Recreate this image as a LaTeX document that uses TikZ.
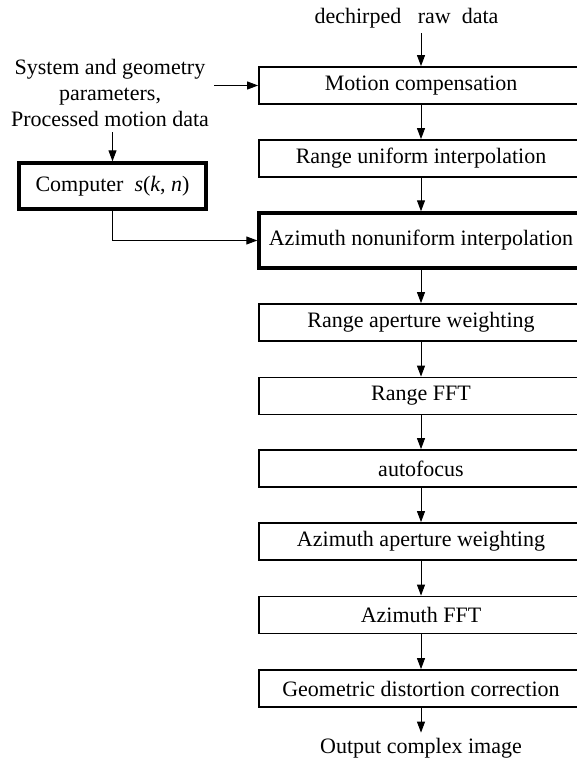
\documentclass[tikz,border=0pt]{standalone}
\usepackage{fontspec}
\setmainfont{Liberation Serif}
\usetikzlibrary{arrows.meta}

\begin{document}
\begin{tikzpicture}[x=0.5pt, y=-0.5pt,
        font=\fontsize{11}{13}\selectfont,
        stage/.style={draw, line width=0.9pt, minimum width=162pt,
                minimum height=18.5pt, inner sep=0pt},
        keystage/.style={stage, line width=1.7pt},
        flow/.style={-{Triangle[length=5.5pt,width=4pt]}, line width=0.5pt},
        txt/.style={inner sep=2.5pt, align=center}]
        \useasboundingbox (0,0) rectangle (577,764);
        \clip (0,0) rectangle (577,764);
        % inputs
        \node[txt] (DR) at (406.5,18) {dechirped\ \ \ raw\ \ data};
        \node[txt] (SP) at (110,93) {System and geometry\\parameters,\\Processed motion data};
        \node[keystage, minimum width=93.5pt, minimum height=23pt] (CP) at (112.5,186)
                {Computer\ \ \textit{s}(\textit{k}, \textit{n})};
        % processing chain
        \node[stage] (MC) at (421,85.5) {Motion compensation};
        \node[stage] (RU) at (421,158.5) {Range uniform interpolation};
        \node[keystage, minimum height=27.5pt] (AN) at (421,240.5) {Azimuth nonuniform interpolation};
        \node[stage] (RA) at (421,322.5) {Range aperture weighting};
        \node[stage] (RF) at (421,396) {Range FFT};
        \node[stage] (AF) at (421,468.5) {autofocus};
        \node[stage] (AA) at (421,541.5) {Azimuth aperture weighting};
        \node[stage] (AZ) at (421,615) {Azimuth FFT};
        \node[stage] (GD) at (421,688.5) {Geometric distortion correction};
        \node[txt] (OUT) at (421,748) {Output complex image};
        % arrows
        \draw[flow] (MC.north |- DR.south) to (MC);
        \draw[flow] (SP.east |- MC.west) to (MC);
        \draw[flow] (SP.south -| CP.north) to (CP);
        \draw[flow] (CP) |- (AN);
        \draw[flow] (MC) to (RU);
        \draw[flow] (RU) to (AN);
        \draw[flow] (AN) to (RA);
        \draw[flow] (RA) to (RF);
        \draw[flow] (RF) to (AF);
        \draw[flow] (AF) to (AA);
        \draw[flow] (AA) to (AZ);
        \draw[flow] (AZ) to (GD);
        \draw[flow] (GD) to (OUT);
\end{tikzpicture}
\end{document}
